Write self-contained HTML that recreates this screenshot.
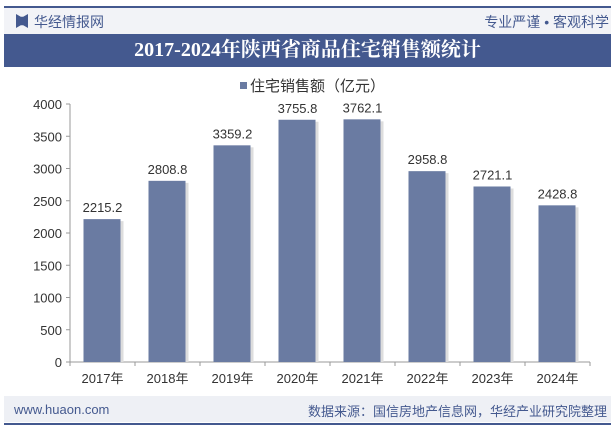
<!DOCTYPE html>
<html><head><meta charset="utf-8"><style>
body{margin:0;width:615px;height:427px;background:#fff;font-family:"Liberation Sans","Noto Sans CJK SC",sans-serif;position:relative;overflow:hidden}
.a{position:absolute}
</style></head><body>
<div class="a" style="left:4px;top:6px;width:607px;height:2px;background:#44598f"></div>
<div class="a" style="left:4px;top:8px;width:607px;height:26px;background:#f2f3f7"></div>
<div class="a" style="left:16px;top:14px;width:12px;height:14px;background:#44598f;clip-path:polygon(0 0,40% 20%,60% 20%,100% 0,100% 100%,60% 80%,40% 80%,0 100%)"></div>
<div class="a" style="left:34px;top:12px;font-size:14px;color:#44598f">华经情报网</div>
<div class="a" style="right:6px;top:12px;font-size:14px;color:#44598f">专业严谨 • 客观科学</div>
<div class="a" style="left:4px;top:34px;width:607px;height:33px;background:#44598f;color:#fff;font-family:'Liberation Serif','Noto Serif CJK SC',serif;font-weight:bold;font-size:20px;text-align:center;line-height:33px">2017-2024年陕西省商品住宅销售额统计</div>
<div class="a" style="left:240px;top:75px;font-size:15px;color:#333"><span style="display:inline-block;width:7px;height:7px;background:#6a7ba2;margin-right:3px;vertical-align:2px"></span>住宅销售额（亿元）</div>
<svg class="a" style="left:0;top:0" width="615" height="427" id="chart"></svg>
<div class="a" style="left:4px;top:396px;width:607px;height:26px;background:#eef0f5"></div>
<div class="a" style="left:14px;top:402px;font-size:13px;color:#44598f">www.huaon.com</div>
<div class="a" style="right:8px;top:401px;font-size:13px;color:#44598f">数据来源：国信房地产信息网，华经产业研究院整理</div>
<div class="a" style="left:4px;top:423px;width:607px;height:2px;background:#44598f"></div>
<script>
const categories=["2017年","2018年","2019年","2020年","2021年","2022年","2023年","2024年"];
const values=[2215.2,2808.8,3359.2,3755.8,3762.1,2958.8,2721.1,2428.8];
const valueLabels=["2215.2","2808.8","3359.2","3755.8","3762.1","2958.8","2721.1","2428.8"];
const ticks=[0,500,1000,1500,2000,2500,3000,3500,4000];
const svg=document.getElementById('chart');const NS='http://www.w3.org/2000/svg';
const x0=70,x1=590,y0=362,y1=104,yMax=4000;
const bw=(x1-x0)/categories.length;
const y=v=>y0-(v/yMax)*(y0-y1);
const xc=i=>x0+bw*(i+0.5);
function mk(t,a){const e=document.createElementNS(NS,t);for(const k in a)e.setAttribute(k,a[k]);svg.appendChild(e);return e;}
let e=mk('line',{x1:x0,y1:y1,x2:x0,y2:y0,stroke:'#999'});


e=mk('line',{x1:x0,y1:y0,x2:x1,y2:y0,stroke:'#999'});


ticks.forEach(t=>{
 mk('line',{x1:x0-4,y1:y(t),x2:x0,y2:y(t),stroke:'#999'});
 const l=mk('text',{x:x0-8,y:y(t)+5,'text-anchor':'end','font-size':13,fill:'#333'});l.textContent=t;
 
 
});
for(let i=0;i<=categories.length;i++)mk('line',{x1:x0+bw*i,y1:y0,x2:x0+bw*i,y2:y0+4,stroke:'#999'});
categories.forEach((c,i)=>{
 mk('rect',{x:xc(i)-17,y:y(values[i])+2,width:38,height:y0-y(values[i])-2,fill:'#ddd'});
 const r=mk('rect',{x:xc(i)-19,y:y(values[i]),width:37,height:y0-y(values[i]),fill:'#6a7ba2'});
 
 
 const v=mk('text',{x:xc(i),y:y(values[i])-7,'text-anchor':'middle','font-size':13,fill:'#333'});v.textContent=valueLabels[i];
 
 
 const t=mk('text',{x:xc(i),y:y0+21,'text-anchor':'middle','font-size':13,fill:'#333'});t.textContent=c;
 
 
});
</script>
</body></html>
